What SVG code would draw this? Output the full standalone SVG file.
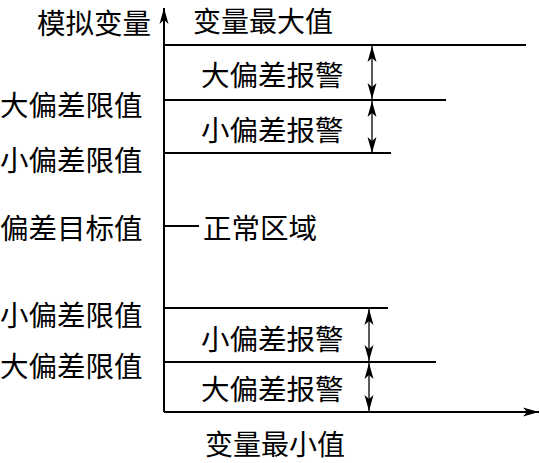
<svg xmlns="http://www.w3.org/2000/svg" width="540" height="463" viewBox="0 0 540 463">
<style>
.t{font-family:"Noto Sans CJK SC","DejaVu Sans",sans-serif;font-size:28.5px;fill:#000;dominant-baseline:central}
.e{font-size:28px}
.l{stroke:#000;stroke-width:2;fill:none}
.a{stroke:#000;stroke-width:1.3;fill:none}
</style>
<defs>
<marker id="ah" markerWidth="18" markerHeight="12" refX="16" refY="6" orient="auto-start-reverse" markerUnits="userSpaceOnUse">
<path d="M0,1.5 L16,6 L0,10.5 L4,6 Z" fill="#000"/>
</marker>
</defs>
<rect width="540" height="463" fill="#fff"/>
<g id="axes">
<line class="l" x1="164" y1="412" x2="164" y2="8" marker-end="url(#ah)"/>
<line class="l" x1="164" y1="412" x2="539" y2="412" marker-end="url(#ah)"/>
</g>
<g id="connectors">
<line class="l" x1="164" y1="45" x2="526" y2="45"/>
<line class="l" x1="164" y1="100" x2="446" y2="100"/>
<line class="l" x1="164" y1="153" x2="391" y2="153"/>
<line class="l" x1="164" y1="226" x2="199" y2="226"/>
<line class="l" x1="164" y1="308" x2="388" y2="308"/>
<line class="l" x1="164" y1="362" x2="436" y2="362"/>
<line class="a" x1="372" y1="46" x2="372" y2="99" marker-start="url(#ah)" marker-end="url(#ah)"/>
<line class="a" x1="372" y1="101" x2="372" y2="153" marker-start="url(#ah)" marker-end="url(#ah)"/>
<line class="a" x1="369" y1="309" x2="369" y2="361" marker-start="url(#ah)" marker-end="url(#ah)"/>
<line class="a" x1="369" y1="363" x2="369" y2="411" marker-start="url(#ah)" marker-end="url(#ah)"/>
</g>
<g id="labels-left">
<text class="t" x="37" y="21">模拟变量</text>
<text class="t" x="0" y="103">大偏差限值</text>
<text class="t" x="0" y="158">小偏差限值</text>
<text class="t" x="0" y="226">偏差目标值</text>
<text class="t" x="0" y="313">小偏差限值</text>
<text class="t" x="0" y="364">大偏差限值</text>
</g>
<g id="labels-right">
<text class="t e" x="193" y="20">变量最大值</text>
<text class="t" x="201" y="73">大偏差报警</text>
<text class="t" x="201" y="128">小偏差报警</text>
<text class="t" x="203" y="226">正常区域</text>
<text class="t" x="201" y="337">小偏差报警</text>
<text class="t" x="201" y="387">大偏差报警</text>
<text class="t e" x="205" y="443">变量最小值</text>
</g>
</svg>
